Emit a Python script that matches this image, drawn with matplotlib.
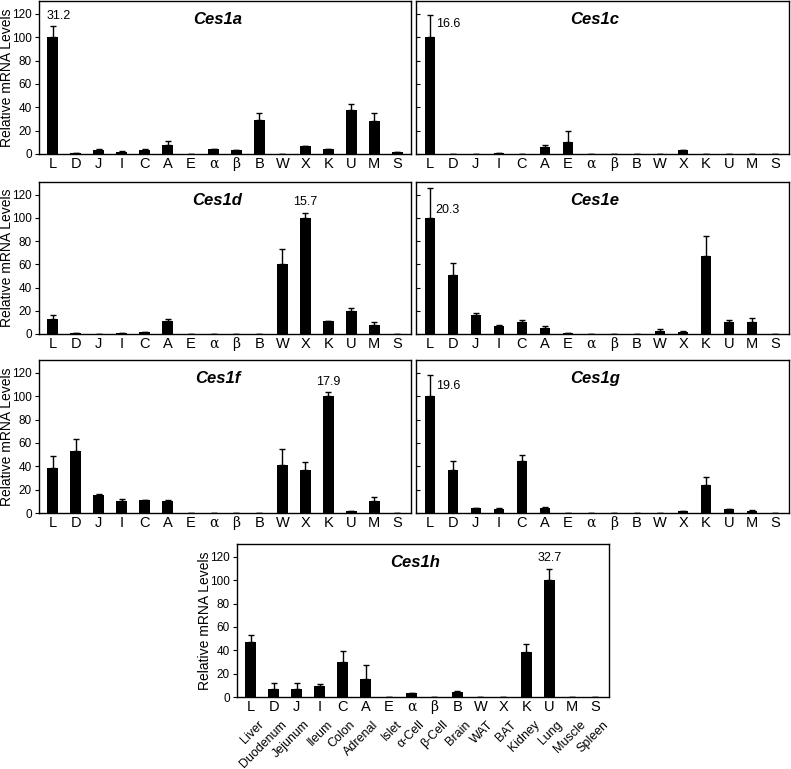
import matplotlib
matplotlib.use('Agg')
import matplotlib.pyplot as plt
import numpy as np

plt.rcParams['font.family'] = ['Liberation Sans', 'DejaVu Sans']

codes = ['L', 'D', 'J', 'I', 'C', 'A', 'E', 'α', 'β', 'B', 'W', 'X', 'K', 'U', 'M', 'S']
tissues = ['Liver', 'Duodenum', 'Jejunum', 'Ileum', 'Colon', 'Adrenal', 'Islet', 'α-Cell',
           'β-Cell', 'Brain', 'WAT', 'BAT', 'Kidney', 'Lung', 'Muscle', 'Spleen']

ces1a = [100, 0.5, 3, 2, 3, 8, 0, 4, 3, 29.5, 0, 7, 4, 38, 28, 2]
ces1a_err = [10, 0, 1.5, 0.5, 1, 3.5, 0, 0, 0, 5.5, 0, 0, 0, 5, 7.5, 0]
ces1c = [100, 0.3, 0.3, 0.5, 0.3, 6, 10, 0.3, 0.3, 0.3, 0.3, 3, 0.3, 0.3, 0.3, 0.3]
ces1c_err = [19, 0, 0, 0, 0, 1.5, 10, 0, 0, 0, 0, 0.5, 0, 0, 0, 0]
ces1d = [13, 0.5, 0.3, 0.5, 2, 11, 0, 0, 0, 0, 60, 100, 11, 20, 8, 0]
ces1d_err = [3, 0, 0, 0, 0, 2, 0, 0, 0, 0, 13, 4.5, 0.5, 2.5, 2, 0]
ces1e = [100, 51, 16, 7, 10, 5, 0.5, 0, 0, 0.3, 3, 2, 67, 10.5, 10, 0.3]
ces1e_err = [26, 10, 2, 0.5, 2, 1.5, 0, 0, 0, 0, 1.5, 0.5, 17.5, 1.5, 3.5, 0]
ces1f = [38.5, 53, 15, 10.5, 11, 10, 0, 0, 0, 0.3, 41.5, 37, 100, 1.5, 10, 0]
ces1f_err = [10, 10, 1.5, 1.5, 0.5, 1.5, 0, 0, 0, 0, 13.5, 6.5, 4, 0.5, 4, 0]
ces1g = [100, 37, 4, 3, 44.5, 4, 0, 0, 0, 0, 0, 1.5, 24, 3.5, 2, 0]
ces1g_err = [18.5, 7.5, 0, 1, 5, 1.5, 0, 0, 0, 0, 0, 0.5, 6.5, 0, 0.5, 0]
ces1h = [47.5, 7, 7, 9, 30, 15, 0, 3, 0, 4, 0, 0, 38.5, 100, 0, 0]
ces1h_err = [6, 5, 5, 2, 9, 12.5, 0, 0.5, 0, 1.5, 0, 0, 7, 10, 0, 0]

# (name, values, errors, fold label, label x, label y, ha, axes rect in px [x0, y0, x1, y1])
panels = [
    ('Ces1a', ces1a, ces1a_err, '31.2', 0.25, 118, 'center', [39, 1, 411, 154]),
    ('Ces1c', ces1c, ces1c_err, '16.6', 0.25, 111, 'left', [416, 1, 789, 154]),
    ('Ces1d', ces1d, ces1d_err, '15.7', 11, 114, 'center', [39, 182, 411, 334]),
    ('Ces1e', ces1e, ces1e_err, '20.3', 0.25, 107, 'left', [416, 182, 789, 334]),
    ('Ces1f', ces1f, ces1f_err, '17.9', 12, 112, 'center', [39, 360, 411, 513]),
    ('Ces1g', ces1g, ces1g_err, '19.6', 0.25, 109, 'left', [416, 360, 789, 513]),
    ('Ces1h', ces1h, ces1h_err, '32.7', 13, 119, 'center', [237, 544, 609, 697]),
]

W, H = 791, 769
fig = plt.figure(figsize=(W / 100, H / 100), dpi=100)
x = np.arange(len(codes))

for name, vals, errs, fold, fx, fy, ha, r in panels:
    ax = fig.add_axes([r[0] / W, 1 - r[3] / H, (r[2] - r[0]) / W, (r[3] - r[1]) / H])
    ax.bar(x, vals, width=0.46, color='black')
    ax.errorbar(x, vals, yerr=[np.zeros(len(vals)), errs], fmt='none', ecolor='black',
                elinewidth=1, capsize=2.5, capthick=1)
    ax.set_xlim(-0.6, 15.6)
    ax.set_ylim(0, 131)
    ax.set_yticks(range(0, 121, 20))
    ax.set_xticks(x)
    ax.set_xticklabels(codes, fontsize=10.5)
    for lbl in ax.get_xticklabels():
        if lbl.get_text() in ('α', 'β'):
            lbl.set_family('DejaVu Serif')
            lbl.set_fontsize(10)
    ax.tick_params(axis='x', length=0, pad=2)
    if r[0] > 400:
        # right column: ticks only, no labels
        ax.tick_params(axis='y', direction='in', length=3, labelleft=False)
    else:
        ax.tick_params(axis='y', direction='out', length=3, labelsize=8.5, pad=2)
        ax.set_ylabel('Relative mRNA Levels', fontsize=10)
        ax.yaxis.set_label_coords(-0.068, 0.5)
    for s in ax.spines.values():
        s.set_linewidth(1)
    ax.text(0.48, 0.93, name, transform=ax.transAxes, ha='center', va='top',
            fontsize=12, fontweight='bold', fontstyle='italic')
    ax.text(fx, fy, fold, ha=ha, va='center', fontsize=9)
    if name == 'Ces1h':
        for xi, t in zip(x, tissues):
            ax.annotate(t, xy=(xi, 0), xycoords=('data', 'axes fraction'),
                        xytext=(5, -15.5), textcoords='offset points',
                        rotation=45, ha='right', va='top', fontsize=9,
                        rotation_mode='anchor')

fig.savefig('out.png', dpi=100)
